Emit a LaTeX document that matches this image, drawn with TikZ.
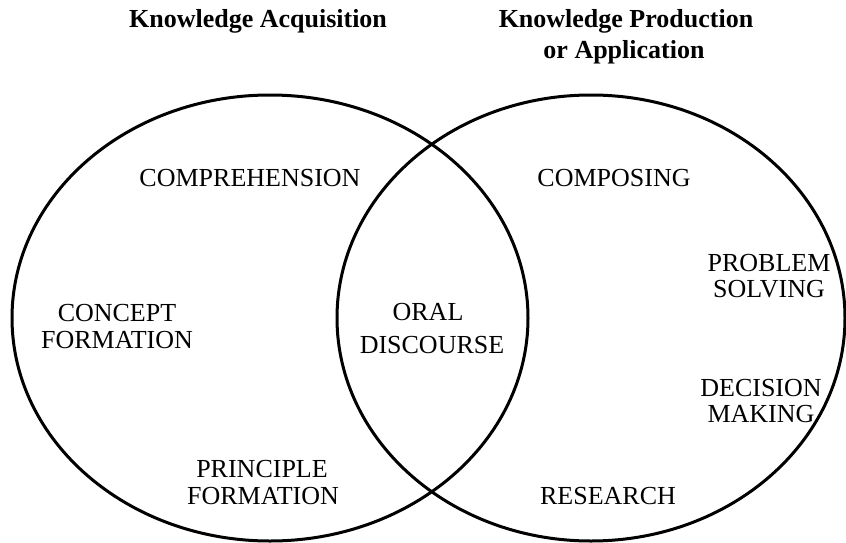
\documentclass[tikz,border=0pt]{standalone}
\usepackage{fontspec}
\setmainfont{Liberation Serif}
\begin{document}
\begin{tikzpicture}[x=1pt,y=-1pt,
  lbl/.style={anchor=base,inner sep=0pt,font=\fontsize{26}{28}\selectfont},
  ttl/.style={anchor=base,inner sep=0pt,font=\fontsize{26}{28}\selectfont\bfseries},
  ring/.style={line width=3pt}]
\useasboundingbox[fill=white] (0,0) rectangle (846,543);
\draw[ring] (270,318) ellipse [x radius=258, y radius=223];
\draw[ring] (591,318) ellipse [x radius=254, y radius=223];
\node[ttl] (t1) at (258,28) {Knowledge Acquisition};
\node[ttl] (t2) at (626,28) {Knowledge Production};
\node[ttl] (t3) at (624,59) {or Application};
\node[lbl] (comp) at (250,186) {COMPREHENSION};
\node[lbl] (compo) at (614,186) {COMPOSING};
\node[lbl] (prob1) at (769,271) {PROBLEM};
\node[lbl] (prob2) at (769,297) {SOLVING};
\node[lbl] (conc1) at (117,321) {CONCEPT};
\node[lbl] (conc2) at (117,348) {FORMATION};
\node[lbl] (oral1) at (428,320) {ORAL};
\node[lbl] (oral2) at (432,353) {DISCOURSE};
\node[lbl] (dec1) at (761,396) {DECISION};
\node[lbl] (dec2) at (761,422) {MAKING};
\node[lbl] (prin1) at (262,477) {PRINCIPLE};
\node[lbl] (prin2) at (263,504) {FORMATION};
\node[lbl] (res) at (608,504) {RESEARCH};
\end{tikzpicture}
\end{document}
